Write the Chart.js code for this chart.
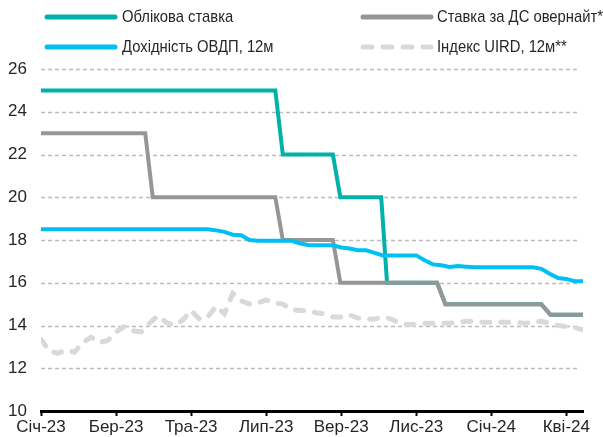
<!DOCTYPE html>
<html>
<head>
<meta charset="utf-8">
<script src="https://cdn.jsdelivr.net/npm/chart.js@4.4.1/dist/chart.umd.min.js"></script>
<style>
html, body { margin: 0; padding: 0; background: #fff; }
#wrap { position: relative; width: 603px; height: 437px; overflow: hidden;
  font-family: "Liberation Sans", Arial, sans-serif; }
#legend .txt { position: absolute; font-size: 17px; color: #262626; white-space: nowrap;
  line-height: 20px; transform: scaleX(0.87); transform-origin: 0 50%; }
#legend canvas { position: absolute; }
</style>
</head>
<body>
<div id="wrap">
  <canvas id="myChart" width="603" height="437"></canvas>
  <div id="legend"></div>
</div>
<script>
// x = week number from the start of Jan 2023, one axis label every 9 weeks
var tickLabels = ['Січ-23', 'Бер-23', 'Тра-23', 'Лип-23', 'Вер-23', 'Лис-23', 'Січ-24', 'Кві-24'];
var weeksPerTick = 9;

// step series: week where the level changes + level
var keyRateWeeks = [0, 28.1, 29.0, 35.0, 35.9, 40.8, 41.5, 47.5, 48.5, 60.0, 61.1, 65];
var keyRate      = [25, 25, 22, 22, 20, 20, 16, 16, 15, 15, 14.5, 14.5];

var overnightWeeks = [0, 12.5, 13.4, 28.1, 29.0, 35.0, 35.9, 47.5, 48.5, 60.0, 61.1, 65];
var overnightRate  = [23, 23, 20, 20, 18, 18, 16, 16, 15, 15, 14.5, 14.5];

// weekly series, week 0..65
var ovdpYield = [18.5, 18.5, 18.5, 18.5, 18.5, 18.5, 18.5, 18.5, 18.5, 18.5,
  18.5, 18.5, 18.5, 18.5, 18.5, 18.5, 18.5, 18.5, 18.5, 18.5,
  18.5, 18.45, 18.38, 18.25, 18.22, 18.0, 17.97, 17.97, 17.97, 17.97,
  17.97, 17.85, 17.77, 17.76, 17.76, 17.75, 17.65, 17.6, 17.52, 17.52,
  17.4, 17.28, 17.28, 17.28, 17.28, 17.28, 17.05, 16.86, 16.82, 16.74,
  16.78, 16.75, 16.72, 16.72, 16.72, 16.72, 16.72, 16.72, 16.72, 16.72,
  16.65, 16.42, 16.22, 16.18, 16.07, 16.07];

var uird = [13.35, 12.8, 12.7, 12.85, 12.75, 13.2, 13.45, 13.2, 13.3, 13.7,
  13.95, 13.75, 13.7, 14.1, 14.45, 14.15, 14.0, 14.25, 14.7, 14.3,
  14.4, 14.9, 14.55, 15.5, 15.15, 15.0, 15.05, 15.2, 15.05, 15.0,
  14.75, 14.7, 14.7, 14.6, 14.55, 14.4, 14.4, 14.5, 14.35, 14.3,
  14.3, 14.4, 14.3, 14.1, 14.05, 14.05, 14.1, 14.1, 14.1, 14.1,
  14.15, 14.2, 14.2, 14.15, 14.15, 14.15, 14.15, 14.15, 14.1, 14.15,
  14.2, 14.1, 14.0, 13.95, 13.9, 13.8];

function pairs(xs, ys) {
  return ys.map(function (y, i) { return { x: xs[i], y: y }; });
}
function weekly(ys) {
  return ys.map(function (y, i) { return { x: i, y: y }; });
}

Chart.defaults.font.family = '"Liberation Sans", Arial, sans-serif';
Chart.defaults.font.size = 17;
Chart.defaults.color = '#262626';

var datasets = [
  { label: 'Облікова ставка', data: pairs(keyRateWeeks, keyRate),
    borderColor: '#00b2a9', borderWidth: 4, order: 3 },
  { label: 'Ставка за ДС овернайт*', data: pairs(overnightWeeks, overnightRate),
    borderColor: '#969696', borderWidth: 4, order: 2 },
  { label: 'Дохідність ОВДП, 12м', data: weekly(ovdpYield),
    borderColor: '#00bff3', borderWidth: 4, order: 1 },
  { label: 'Індекс UIRD, 12м**', data: weekly(uird),
    borderColor: '#d9d9d9', borderWidth: 5, borderDash: [8, 11], borderCapStyle: 'round', order: 4 }
];

// dashed horizontal grid lines at the y ticks
var dashedGrid = {
  id: 'dashedGrid',
  beforeDatasetsDraw: function (chart) {
    var y = chart.scales.y, area = chart.chartArea, g = chart.ctx;
    g.save();
    g.strokeStyle = '#bcbcbc';
    g.lineWidth = 1.3;
    g.setLineDash([4, 3]);
    y.ticks.forEach(function (t) {
      if (t.value === y.min) return;
      var py = Math.round(y.getPixelForValue(t.value)) + 0.5;
      g.beginPath(); g.moveTo(area.left, py); g.lineTo(area.right - 3, py); g.stroke();
    });
    g.restore();
  }
};

var ctx = document.getElementById('myChart').getContext('2d');
var chart = new Chart(ctx, {
  type: 'line',
  data: { datasets: datasets },
  plugins: [dashedGrid],
  options: {
    responsive: false,
    animation: false,
    layout: { padding: { top: 69, right: 20, bottom: 0, left: 0 } },
    elements: { point: { radius: 0 }, line: { tension: 0 } },
    plugins: { legend: { display: false }, tooltip: { enabled: false } },
    scales: {
      x: {
        type: 'linear', min: 0, max: 65,
        afterBuildTicks: function (scale) {
          scale.ticks = tickLabels.map(function (t, k) { return { value: k * weeksPerTick }; });
        },
        afterFit: function (scale) { scale.height = 26; },
        ticks: {
          autoSkip: false, maxRotation: 0, padding: 1,
          callback: function (v) { return tickLabels[Math.round(v / weeksPerTick)]; }
        },
        grid: { drawOnChartArea: false, drawTicks: true, tickLength: 5, tickColor: '#000', tickWidth: 2 },
        border: { display: true, color: '#000', width: 3 }
      },
      y: {
        min: 10, max: 26,
        afterFit: function (scale) { scale.width = 41; },
        ticks: { stepSize: 2, padding: 14 },
        grid: { display: false, drawTicks: false },
        border: { display: false }
      }
    }
  }
});

// legend: 2 x 2 grid
var legendPos = [
  { lineX: 45, textX: 122, y: 17 },
  { lineX: 361, textX: 437, y: 17 },
  { lineX: 45, textX: 122, y: 47 },
  { lineX: 361, textX: 437, y: 47 }
];
var leg = document.getElementById('legend');
datasets.forEach(function (ds, k) {
  var p = legendPos[k];
  var c = document.createElement('canvas');
  c.width = 76; c.height = 10;
  c.style.left = (p.lineX - 2) + 'px';
  c.style.top = (p.y - 5) + 'px';
  var g = c.getContext('2d');
  g.strokeStyle = ds.borderColor;
  g.lineWidth = 5;
  g.lineCap = 'round';
  if (ds.borderDash) g.setLineDash([9, 11]);
  g.beginPath(); g.moveTo(4, 5); g.lineTo(72, 5); g.stroke();
  leg.appendChild(c);
  var t = document.createElement('div');
  t.className = 'txt';
  t.style.left = p.textX + 'px';
  t.style.top = (p.y - 10) + 'px';
  t.textContent = ds.label;
  leg.appendChild(t);
});
</script>
</body>
</html>
